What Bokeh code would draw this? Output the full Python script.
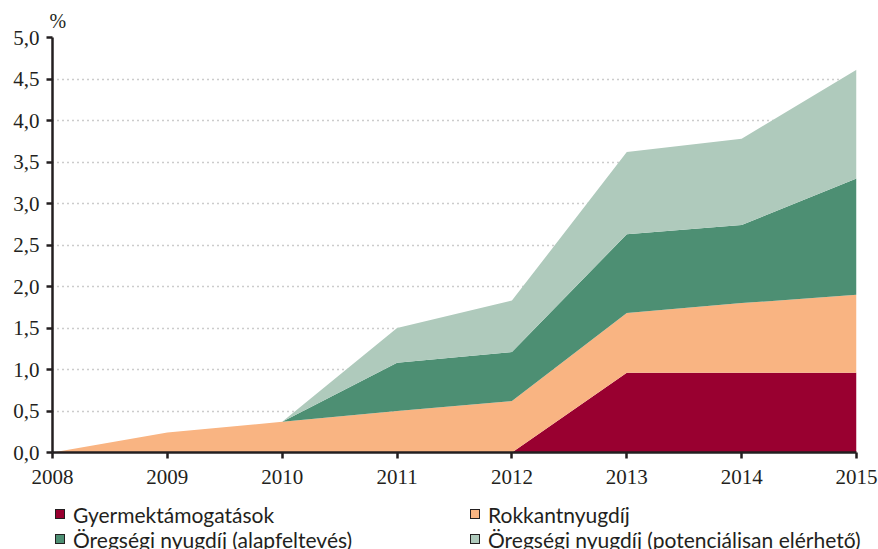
from bokeh.plotting import figure
from bokeh.layouts import column
from bokeh.models import ColumnDataSource, FixedTicker, Range1d, Div
from bokeh.embed import file_html
from bokeh.resources import INLINE

years = [2008, 2009, 2010, 2011, 2012, 2013, 2014, 2015]
gyermek = [0, 0, 0, 0, 0, 0.96, 0.96, 0.96]
rokkant = [0, 0.24, 0.37, 0.50, 0.62, 0.72, 0.84, 0.94]
oreg_alap = [0, 0, 0, 0.58, 0.59, 0.95, 0.94, 1.40]
oreg_pot = [0, 0, 0, 0.42, 0.62, 0.99, 1.04, 1.31]

series_names = ["Gyermektámogatások", "Rokkantnyugdíj",
                "Öregségi nyugdíj (alapfeltevés)", "Öregségi nyugdíj (potenciálisan elérhető)"]
colors = ["#990030", "#F9B482", "#4D8F73", "#AFCABC"]

y_ticks = [0, 0.5, 1.0, 1.5, 2.0, 2.5, 3.0, 3.5, 4.0, 4.5, 5.0]
y_tick_labels = ["0,0", "0,5", "1,0", "1,5", "2,0", "2,5", "3,0", "3,5", "4,0", "4,5", "5,0"]
x_ticks = years
x_tick_labels = [str(y) for y in years]

FONT = "Liberation Serif"
LFONT = "Lato"

src = ColumnDataSource(dict(x=years, s0=gyermek, s1=rokkant, s2=oreg_alap, s3=oreg_pot))

p = figure(width=878, height=502, output_backend="svg", toolbar_location=None,
           x_range=Range1d(2008, 2015), y_range=Range1d(0, 5),
           min_border_left=52, min_border_top=37, min_border_right=22, min_border_bottom=50)
p.outline_line_color = None

p.title.text = "%"
p.title.text_font = FONT
p.title.text_font_size = "20px"
p.title.text_font_style = "normal"
p.title.text_color = "#231F20"
p.title.align = "left"
p.title.offset = -3
p.title.standoff = 11

p.varea_stack(stackers=["s0", "s1", "s2", "s3"], x="x", color=colors, source=src)

# axes
p.xaxis.ticker = FixedTicker(ticks=x_ticks)
p.xaxis.major_label_overrides = {t: l for t, l in zip(x_ticks, x_tick_labels)}
p.yaxis.ticker = FixedTicker(ticks=y_ticks)
p.yaxis.major_label_overrides = {t: l for t, l in zip(y_ticks, y_tick_labels)}
for ax in (p.xaxis, p.yaxis):
    ax.axis_line_color = "#231F20"
    ax.axis_line_width = 2.5
    ax.major_tick_line_color = "#231F20"
    ax.major_tick_line_width = 2.5
    ax.major_tick_out = 6
    ax.major_tick_in = 0
    ax.minor_tick_line_color = None
    ax.major_label_text_font = FONT
    ax.major_label_text_font_size = "21px"
    ax.major_label_text_color = "#231F20"
p.xaxis.major_label_standoff = 11
p.yaxis.major_label_standoff = 7

p.xgrid.grid_line_color = None
p.ygrid.grid_line_color = "#999999"
p.ygrid.grid_line_dash = "1 4"
p.ygrid.grid_line_width = 1.5
p.ygrid.ticker = FixedTicker(ticks=y_ticks[1:])

# legend as an HTML strip below the chart (two columns, two rows)
col_x = [55, 470]
row_c = [13, 38]
parts = []
for i, (name, c) in enumerate(zip(series_names, colors)):
    cx = col_x[i % 2]
    cy = row_c[i // 2]
    parts.append(
        f'<span style="position:absolute;left:{cx}px;top:{cy - 6}px;width:10px;height:10px;'
        f'background:{c};border:1px solid #231F20;"></span>'
        f'<span style="position:absolute;left:{cx + 18}px;top:{cy - 13}px;line-height:26px;'
        f'white-space:nowrap;">{name}</span>'
    )
html = ('<div style="position:relative;width:878px;height:47px;overflow:hidden;'
        f'font-family:{LFONT};font-size:21px;color:#231F20;">' + "".join(parts) + "</div>")
legend_div = Div(text=html, width=878, height=47, margin=0)

layout = column(p, legend_div, spacing=0)
open("out.html", "w").write(file_html(layout, INLINE))
